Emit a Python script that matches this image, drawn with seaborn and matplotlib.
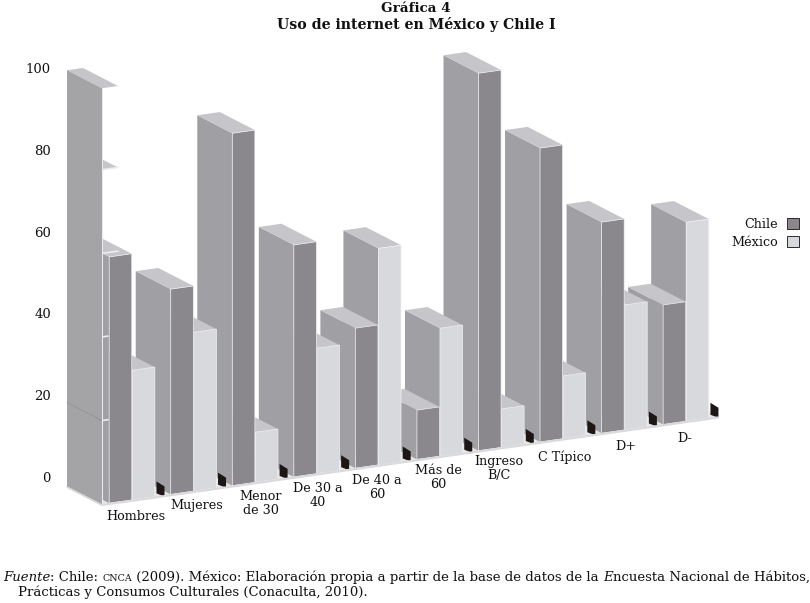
import matplotlib
matplotlib.use("Agg")
import matplotlib.pyplot as plt
import pandas as pd
import seaborn as sns
from matplotlib.patches import Polygon
from matplotlib.transforms import Affine2D

# ---- data ----
categories = ["Hombres", "Mujeres", "Menor\nde 30", "De 30 a\n40", "De 40 a\n60",
              "Más de\n60", "Ingreso\nB/C", "C Típico", "D+", "D-"]
chile = [58.9, 49.1, 84.3, 55.5, 33.5, 11.8, 90.3, 70.3, 50.5, 28.6]
mexico = [31.0, 38.0, 12.0, 30.0, 51.8, 30.6, 9.2, 15.0, 29.9, 47.6]
y_ticks = [0, 20, 40, 60, 80, 100]

# ---- layout (pixels of the 810x603 figure) ----
W, H = 810, 603
X0, STEP = 132.0, 61.55      # centre of first group, px per category
Y0, UNIT = 477.0, 4.09       # tick value 0 in image px, px per unit on the tick axis
AX_L, AX_R, AX_T, AX_B = 60, 730, 40, 540
BAR_UNIT = 4.18              # px per unit for drawn bars
RISE = 0.142                 # floor rises to the right, px per px
BASE0 = 499.9                # floor height below first group centre
DX, DY = -35 / STEP, 18 / UNIT   # depth vector in data units

C_CHILE, C_MEX = "#8A888C", "#D8D9DC"
C_SIDE, C_TOP, C_EDGE = "#A09FA3", "#C6C6CA", "#F2F2F4"

sns.set_theme(style="white")
plt.rcParams["font.family"] = ["DejaVu Serif"]
plt.rcParams["text.color"] = "#111111"

fig = plt.figure(figsize=(W / 100, H / 100), dpi=100, facecolor="white")
ax = fig.add_axes([AX_L / W, (H - AX_B) / H, (AX_R - AX_L) / W, (AX_B - AX_T) / H])

df = pd.DataFrame({
    "Grupo": categories * 2,
    "Uso": chile + mexico,
    "País": ["Chile"] * len(categories) + ["México"] * len(categories),
})
sns.barplot(data=df, x="Grupo", y="Uso", hue="País", ax=ax, errorbar=None, saturation=1,
            palette={"Chile": C_CHILE, "México": C_MEX},
            width=0.749, gap=0.02, edgecolor=C_EDGE, linewidth=0.5)

ax.set_xlim((AX_L - X0) / STEP, (AX_R - X0) / STEP)
ax.set_ylim((Y0 - AX_B) / UNIT, (Y0 - AX_T) / UNIT)
ax.set_xlabel("")
ax.set_ylabel("")
sns.despine(ax=ax, left=True, bottom=True)
ax.patch.set_visible(False)

# shear that turns the flat chart into the tilted 3-D view
T = Affine2D.from_values(1, RISE * STEP / UNIT, 0, BAR_UNIT / UNIT, 0, (Y0 - BASE0) / UNIT)


def proj(x, y, depth=0.0):
    px, py = T.transform((x, y))
    return (px + DX * depth, py + DY * depth)


def poly(points, color, z, **kw):
    kw.setdefault("lw", 0)
    ax.add_patch(Polygon(points, closed=True, facecolor=color, edgecolor=kw.pop("ec", color),
                         zorder=z, clip_on=False, **kw))


# every bar, painted from right (far) to left (near)
n = len(categories)
for s, container in enumerate(ax.containers):
    for i, bar in enumerate(container):
        x, w, h = bar.get_x(), bar.get_width(), bar.get_height()
        z = 10 + 2 * (2 * n - (2 * i + s))
        bar.set_transform(T + ax.transData)
        bar.set_clip_on(False)
        bar.set_zorder(z + 0.5)
        poly([proj(x, 0), proj(x, h), proj(x, h, 1), proj(x, 0, 1)], C_SIDE, z)
        poly([proj(x, h), proj(x + w, h), proj(x + w, h, 1), proj(x, h, 1)], C_TOP, z + 0.2)

# small black blocks at the right foot of each group
for i in range(n):
    bx = i + 24.5 / STEP
    cx, cy = proj(bx, 0)
    u = 1 / UNIT
    poly([(cx, cy + 15 * u), (cx + 8 / STEP, cy + 10 * u),
          (cx + 8 / STEP, cy), (cx, cy + 3 * u)], "#1c1614", 10 + 2 * (2 * n - 2 * i - 2) + 1.5)

# wall at the left, with its tick ledges, and the floor
wx, ww = (102 - X0) / STEP, 16 / STEP
top_val = y_ticks[-1] - 0.5
poly([proj(wx, 0), proj(wx, top_val), proj(wx, top_val, 1), proj(wx, 0, 1)], "#A4A4A7", 80)
poly([proj(wx, top_val), proj(wx + ww, top_val), proj(wx + ww, top_val, 1), proj(wx, top_val, 1)],
     C_TOP, 79)
sliver = {20: 6 / STEP, 40: 6 / STEP, 60: ww, 80: ww}
for v in y_ticks[1:-1]:
    poly([proj(wx, v), proj(wx + ww, v), proj(wx + ww, v, 1), proj(wx, v, 1)], C_TOP, 5)
    p, q = proj(wx, v), proj(wx + sliver[v], v)
    ax.plot([p[0], q[0]], [p[1], q[1]], color="#EDEDF0", lw=1.2, zorder=70, clip_on=False)
p, q = proj(wx, y_ticks[1]), proj(wx, y_ticks[1], 1)
ax.plot([p[0], q[0]], [p[1], q[1]], color="#929295", lw=0.6, zorder=81, clip_on=False)
p, q = proj(wx, 0), proj(wx, top_val)
ax.plot([p[0], q[0]], [p[1], q[1]], color="#E8E8EB", lw=0.8, zorder=81, clip_on=False)
fx = (718 - X0) / STEP
poly([proj(wx, 0), proj(fx, 0), proj(fx, 0, 1), proj(wx, 0, 1)], "#E6E6E9", 2)
p, q = proj(wx, 0), proj(fx, 0)
ax.plot([p[0], q[0]], [p[1] - 0.2, q[1] - 0.2], color="#DADADD", lw=1.6, zorder=60, clip_on=False)
p, q = proj(wx, 0), proj(wx, 0, 1)
ax.plot([p[0], q[0]], [p[1] - 0.2, q[1] - 0.2], color="#D8D8DB", lw=1.4, zorder=79, clip_on=False)

# value ticks
ax.set_yticks(y_ticks)
ax.tick_params(axis="y", length=0, pad=6.5, labelsize=9.5, labelcolor="#111111")

# category labels follow the rising floor
label_x = [136, 197, 261, 318, 377, 438, 499, 565, 626, 685]
label_y = [517, 505, 503, 495, 487, 478, 469, 457, 446, 438]
ax.set_xticks(range(n))
ax.set_xticklabels(categories)
ax.tick_params(axis="x", length=0, pad=0, labelsize=9.2, labelcolor="#111111")
for i, lab in enumerate(ax.get_xticklabels()):
    lab.set_va("center")
    lab.set_ha("center")
    lab.set_multialignment("center")
    lab.set_linespacing(1.1)
    lab.set_transform(lab.get_transform() + Affine2D().translate(label_x[i] - (X0 + STEP * i),
                                                                 AX_B - label_y[i]))

# legend
sns.move_legend(ax, "upper left", bbox_to_anchor=(731 / W, (H - 218) / H),
                bbox_transform=fig.transFigure, title=None, frameon=False, markerfirst=False,
                handlelength=0.95, handleheight=0.95, handletextpad=0.75, labelspacing=0.38,
                fontsize=9.2, borderpad=0, borderaxespad=0, alignment="right")
leg = ax.get_legend()
leg.set_zorder(100)
for t in leg.get_texts():
    t.set_ha("right")
for handle in leg.legend_handles:
    handle.set_edgecolor("#2a2a2a")
    handle.set_linewidth(0.7)

# titles
fig.text(416 / W, 1 - 9 / H, "Gráfica 4", ha="center", va="center", fontsize=9.7, fontweight="bold")
fig.text(416 / W, 1 - 25 / H, "Uso de internet en México y Chile I", ha="center", va="center",
         fontsize=10.2, fontweight="bold")

# source note, pieced together to keep italic and small-capital runs
renderer = fig.canvas.get_renderer()


def run(x, y, pieces, size=9.5):
    for txt, style, scale in pieces:
        t = fig.text(x / W, 1 - y / H, txt, ha="left", va="baseline", fontsize=size * scale, fontstyle=style)
        x = t.get_window_extent(renderer).x1
    return x


run(3, 581, [("Fuente", "italic", 1), (": Chile: ", "normal", 1), ("CNCA", "normal", 0.72),
             (" (2009). México: Elaboración propia a partir de la base de datos de la ", "normal", 1),
             ("E", "italic", 1), ("ncuesta Nacional de Hábitos,", "normal", 1)])
run(18, 596, [("Prácticas y Consumos Culturales (Conaculta, 2010).", "normal", 1)])

fig.savefig("out.png", dpi=100, facecolor="white")
